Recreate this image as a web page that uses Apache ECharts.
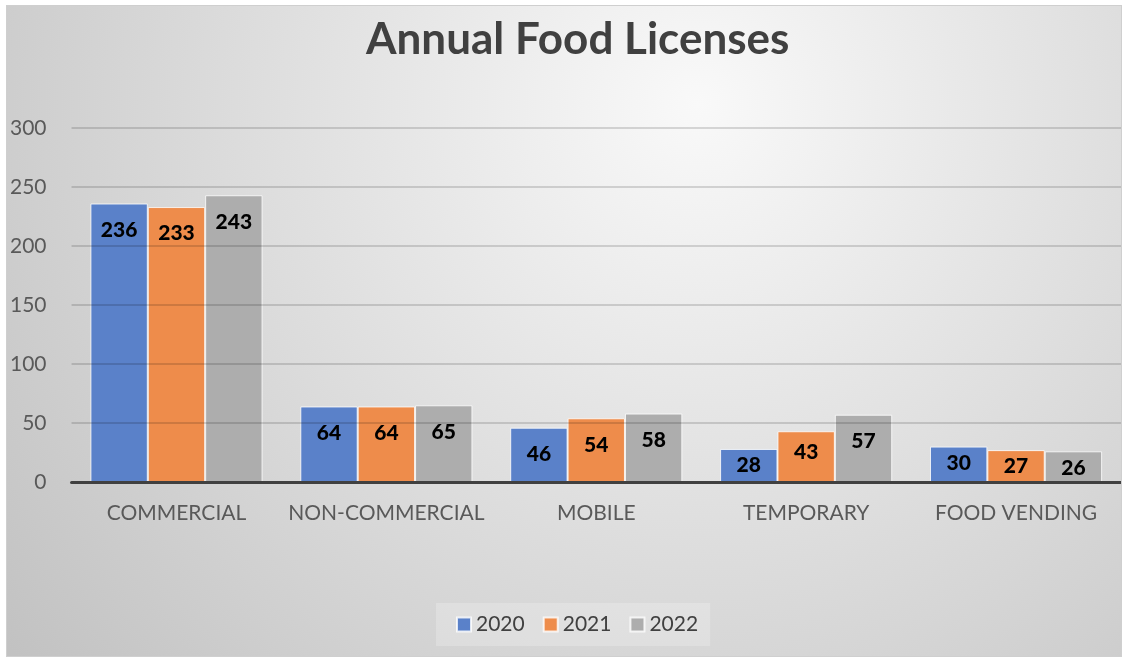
<!DOCTYPE html>
<html>
<head>
<meta charset="utf-8">
<script src="https://cdn.jsdelivr.net/npm/echarts@6/dist/echarts.min.js"></script>
<style>
html,body{margin:0;padding:0;background:#fff;width:1123px;height:662px;overflow:hidden;}
#chart{position:absolute;left:6px;top:5px;width:1116px;height:652px;box-sizing:border-box;border:1px solid #cfcfcf;}
</style>
</head>
<body>
<div id="chart"></div>
<script>
var title = 'Annual Food Licenses';
var categories = ['COMMERCIAL', 'NON-COMMERCIAL', 'MOBILE', 'TEMPORARY', 'FOOD VENDING'];
var seriesNames = ['2020', '2021', '2022'];
var values2020 = [236, 64, 46, 28, 30];
var values2021 = [233, 64, 54, 43, 27];
var values2022 = [243, 65, 58, 57, 26];
var yTicks = [0, 50, 100, 150, 200, 250, 300];

var colors = ['#5A81C9', '#EE8C4B', '#ADADAD'];
var allValues = [values2020, values2021, values2022];
var FONT = 'Lato';

function labelDistance(v) {
  return v >= 45 ? 16 : (v >= 40 ? 10 : 6);
}

var chart = echarts.init(document.getElementById('chart'));
var series = seriesNames.map(function (name, i) {
  return {
    name: name,
    type: 'bar',
    data: allValues[i].map(function (v) {
      return { value: v, label: { distance: labelDistance(v) } };
    }),
    z: 2,
    barGap: '0%',
    barCategoryGap: '18%',
    itemStyle: { color: colors[i], borderColor: 'rgba(255,255,255,0.8)', borderWidth: 1 },
    label: {
      show: true,
      position: 'insideTop',
      color: '#000',
      fontFamily: FONT,
      fontWeight: 900,
      fontSize: 21
    }
  };
});

chart.setOption({
  animation: false,
  backgroundColor: {
    type: 'radial', x: 0.62, y: 0.15, r: 1.35,
    colorStops: [{ offset: 0, color: '#f9f9f9' }, { offset: 1, color: '#c2c2c2' }]
  },
  title: {
    text: title,
    left: 359,
    top: 12,
    padding: 0,
    textStyle: { fontFamily: FONT, fontWeight: 'bold', fontSize: 44, color: '#404040' }
  },
  legend: {
    data: seriesNames,
    left: 429,
    top: 597,
    padding: [11, 12, 11, 20],
    itemGap: 18,
    itemWidth: 14,
    itemHeight: 14,
    icon: 'rect',
    backgroundColor: 'rgba(255,255,255,0.22)',
    textStyle: { fontFamily: FONT, fontSize: 21, color: '#404040' }
  },
  grid: { left: 64, right: 0, top: 122, bottom: 174, containLabel: false },
  xAxis: {
    type: 'category',
    data: categories,
    z: 4,
    axisLine: { show: true, lineStyle: { color: '#404040', width: 3 } },
    axisTick: { show: false },
    axisLabel: { interval: 0, fontFamily: FONT, fontSize: 21, color: '#595959', margin: 21 }
  },
  yAxis: {
    type: 'value',
    min: yTicks[0],
    max: yTicks[yTicks.length - 1],
    interval: 50,
    z: 3,
    axisLine: { show: false },
    axisTick: { show: false },
    splitLine: { lineStyle: { color: 'rgba(0,0,0,0.14)', width: 2 } },
    axisLabel: { fontFamily: FONT, fontSize: 21, color: '#595959', margin: 25 }
  },
  series: series
});
</script>
</body>
</html>
